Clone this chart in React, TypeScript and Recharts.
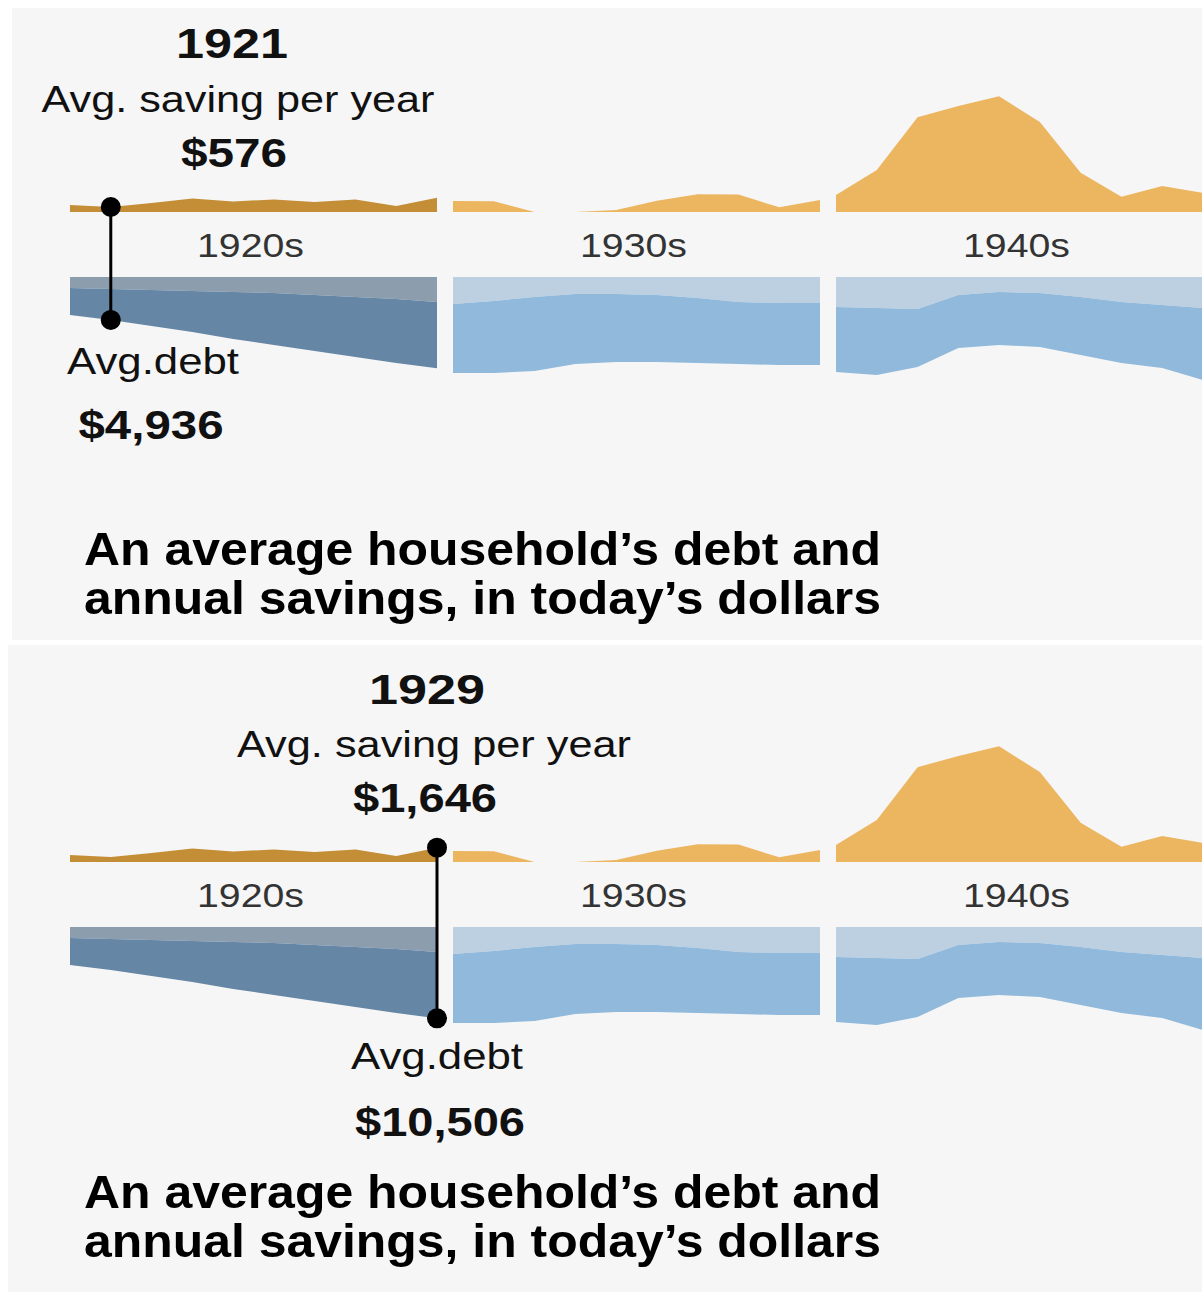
import React from 'react';
import { AreaChart, Area, XAxis, YAxis, ReferenceDot, ReferenceLine } from 'recharts';

// decade strips and their years
const decades = ['1920s', '1930s', '1940s'];
const years1920s = [1920, 1921, 1922, 1923, 1924, 1925, 1926, 1927, 1928, 1929];
const years1930s = [1930, 1931, 1932, 1933, 1934, 1935, 1936, 1937, 1938, 1939];
const years1940s = [1940, 1941, 1942, 1943, 1944, 1945, 1946, 1947, 1948, 1949];

// avg. saving per year, today's dollars
const savings1920s = [800, 576, 1040, 1560, 1200, 1450, 1150, 1450, 700, 1646];
const savings1930s = [1270, 1250, 0, 0, 230, 1300, 2050, 2000, 550, 1380];
const savings1940s = [1950, 4830, 10900, 12200, 13300, 10350, 4500, 1750, 3000, 2200];

// avg. debt, two stacked bands (light band on top, darker band under it)
const upperDebt1920s = [1265, 1380, 1495, 1610, 1725, 1840, 2070, 2300, 2530, 2875];
const lowerDebt1920s = [3105, 3556, 4140, 4715, 5405, 5980, 6440, 6900, 7360, 7631];
const upperDebt1930s = [3105, 2760, 2300, 1955, 1955, 2070, 2415, 2875, 2990, 2990];
const lowerDebt1930s = [7935, 8280, 8510, 8050, 7820, 7705, 7475, 7130, 7130, 7130];
const upperDebt1940s = [3450, 3565, 3680, 2070, 1725, 1840, 2300, 2875, 3220, 3565];
const lowerDebt1940s = [7475, 7705, 6670, 6095, 6095, 6210, 6670, 7015, 7245, 8280];

// the two snapshots shown
const snapshotYears = [1921, 1929];
const snapshotSavingLabels = ['$576', '$1,646'];
const snapshotDebtLabels = ['$4,936', '$10,506'];

const titleLines = ['An average household\u2019s debt and', 'annual savings, in today\u2019s dollars'];

const strips = [
  { years: years1920s, savings: savings1920s, upper: upperDebt1920s, lower: lowerDebt1920s },
  { years: years1930s, savings: savings1930s, upper: upperDebt1930s, lower: lowerDebt1930s },
  { years: years1940s, savings: savings1940s, upper: upperDebt1940s, lower: lowerDebt1940s },
].map(s => s.years.map((year, i) => ({ year, saving: s.savings[i], upper: s.upper[i], lower: s.lower[i] })));

// layout
const DPP = 115; // dollars per pixel, both charts
const SEG_X = [70, 453, 836];
const SEG_W = 367;
const PAD = 14;
const SAV_TOP = 60;
const SPLIT = 245;
const SAV_BASE = 212;
const DEBT_BASE = 277;
const DEBT_BOTTOM = 420;
const SAV_MIN = -(SPLIT - SAV_BASE) * DPP;
const SAV_MAX = (SAV_BASE - SAV_TOP) * DPP;
const DEBT_MIN = -(DEBT_BASE - SPLIT) * DPP;
const DEBT_MAX = (DEBT_BOTTOM - DEBT_BASE) * DPP;

const SAV_HI = '#c48e37';
const SAV = '#ecb661';
const UP_HI = '#8c9dae';
const LO_HI = '#6686a6';
const UP = '#bdd0e1';
const LO = '#90b9dc';

const FONT = '"Liberation Sans", Arial, Helvetica, sans-serif';

const panels = [
  {
    bg: { x: 12, y: 8, h: 632 }, chartDy: 0,
    year: { x: 232, y: 58, w: 112 }, saveLbl: { x: 238, y: 112, w: 393 }, saveVal: { x: 234, y: 167, w: 106 },
    debtLbl: { x: 153, y: 374, w: 172 }, debtVal: { x: 151, y: 439, w: 145 }, titleY: 565,
  },
  {
    bg: { x: 8, y: 645, h: 647 }, chartDy: 650,
    year: { x: 427, y: 704, w: 116 }, saveLbl: { x: 434, y: 757, w: 394 }, saveVal: { x: 425, y: 812, w: 144 },
    debtLbl: { x: 437, y: 1069, w: 172 }, debtVal: { x: 440, y: 1136, w: 170 }, titleY: 1208,
  },
];

function Strip({ idx, dy, marker }: { idx: number; dy: number; marker: number | null }) {
  const rows = strips[idx];
  const yrs = rows.map(r => r.year);
  const hi = marker !== null;
  const row = hi ? rows.find(r => r.year === marker)! : null;
  const xDomain = [yrs[0], yrs[yrs.length - 1]];
  return (
    <>
      <div style={{ position: 'absolute', left: SEG_X[idx] - PAD, top: SAV_TOP + dy }}>
        <AreaChart width={SEG_W + PAD * 2} height={SPLIT - SAV_TOP} data={rows}
          margin={{ top: 0, right: PAD, bottom: 0, left: PAD }}>
          <XAxis dataKey="year" type="number" domain={xDomain} allowDataOverflow hide />
          <YAxis type="number" domain={[SAV_MIN, SAV_MAX]} allowDataOverflow hide />
          <Area type="linear" dataKey="saving" baseValue={0} stroke="none" fill={hi ? SAV_HI : SAV}
            fillOpacity={1} dot={false} activeDot={false} isAnimationActive={false} />
          {row && (
            <ReferenceLine segment={[{ x: row.year, y: row.saving }, { x: row.year, y: SAV_MIN }]}
              stroke="#000" strokeWidth={3} />
          )}
          {row && <ReferenceDot x={row.year} y={row.saving} r={10} fill="#000" stroke="none" />}
        </AreaChart>
      </div>
      <div style={{ position: 'absolute', left: SEG_X[idx] - PAD, top: SPLIT + dy }}>
        <AreaChart width={SEG_W + PAD * 2} height={DEBT_BOTTOM - SPLIT} data={rows}
          margin={{ top: 0, right: PAD, bottom: 0, left: PAD }}>
          <XAxis dataKey="year" type="number" domain={xDomain} allowDataOverflow hide />
          <YAxis type="number" domain={[DEBT_MIN, DEBT_MAX]} reversed allowDataOverflow hide />
          <Area type="linear" dataKey="upper" stackId="debt" stroke="none" fill={hi ? UP_HI : UP}
            fillOpacity={1} dot={false} activeDot={false} isAnimationActive={false} />
          <Area type="linear" dataKey="lower" stackId="debt" stroke="none" fill={hi ? LO_HI : LO}
            fillOpacity={1} dot={false} activeDot={false} isAnimationActive={false} />
          {row && (
            <ReferenceLine segment={[{ x: row.year, y: DEBT_MIN }, { x: row.year, y: row.upper + row.lower }]}
              stroke="#000" strokeWidth={3} />
          )}
          {row && <ReferenceDot x={row.year} y={row.upper + row.lower} r={10} fill="#000" stroke="none" />}
        </AreaChart>
      </div>
    </>
  );
}

function Txt({ x, y, w, size, bold, anchor = 'middle', fill = '#111', children }: any) {
  return (
    <text x={x} y={y} textAnchor={anchor} textLength={w} lengthAdjust="spacingAndGlyphs"
      fontSize={size} fontWeight={bold ? 700 : 400} fill={fill} fontFamily={FONT}>
      {children}
    </text>
  );
}

export default function App() {
  return (
    <div style={{ position: 'absolute', left: 0, top: 0, width: 1202, height: 1292, background: '#fff', overflow: 'hidden' }}>
      {panels.map((p, k) => (
        <div key={'bg' + k} style={{ position: 'absolute', left: p.bg.x, top: p.bg.y, width: 1202 - p.bg.x, height: p.bg.h, background: '#f6f6f6' }} />
      ))}
      {panels.map((p, k) => {
        const yr = snapshotYears[k];
        return decades.map((d, i) => {
          const inStrip = strips[i].some(r => r.year === yr);
          return <Strip key={k + d} idx={i} dy={p.chartDy} marker={inStrip ? yr : null} />;
        });
      })}
      <svg width={1202} height={1292} style={{ position: 'absolute', left: 0, top: 0, pointerEvents: 'none' }}>
        {panels.map((p, k) => (
          <g key={'t' + k}>
            <Txt x={p.year.x} y={p.year.y} w={p.year.w} size={42} bold>{String(snapshotYears[k])}</Txt>
            <Txt x={p.saveLbl.x} y={p.saveLbl.y} w={p.saveLbl.w} size={36}>Avg. saving per year</Txt>
            <Txt x={p.saveVal.x} y={p.saveVal.y} w={p.saveVal.w} size={40} bold>{snapshotSavingLabels[k]}</Txt>
            {decades.map((d, i) => (
              <Txt key={d} x={SEG_X[i] + SEG_W / 2 - 3} y={257 + p.chartDy} w={107} size={33} fill="#333">{d}</Txt>
            ))}
            <Txt x={p.debtLbl.x} y={p.debtLbl.y} w={p.debtLbl.w} size={36}>Avg.debt</Txt>
            <Txt x={p.debtVal.x} y={p.debtVal.y} w={p.debtVal.w} size={40} bold>{snapshotDebtLabels[k]}</Txt>
            {titleLines.map((t, j) => (
              <Txt key={j} x={84} y={p.titleY + j * 49} w={797} size={47} bold anchor="start" fill="#000">{t}</Txt>
            ))}
          </g>
        ))}
      </svg>
    </div>
  );
}
